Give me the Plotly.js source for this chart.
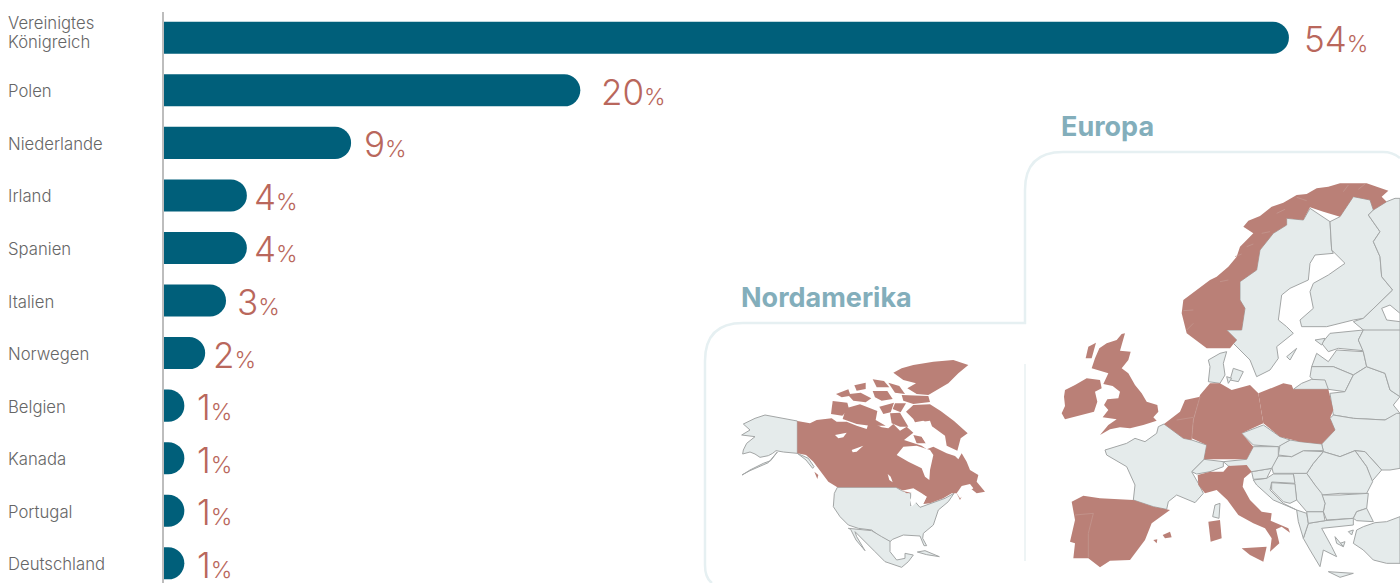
<!DOCTYPE html><html><head><meta charset="utf-8"><script src="https://cdn.plot.ly/plotly-3.0.1.min.js"></script></head><body style="margin:0;background:#fff"><div id="g" style="width:1400px;height:583px"></div><script>
const categories=['Vereinigtes<br>Königreich','Polen','Niederlande','Irland','Spanien','Italien','Norwegen','Belgien','Kanada','Portugal','Deutschland'];
const shares=[54,20,9,4,4,3,2,1,1,1,1];
const panelTitles=['Nordamerika','Europa'];
// North America outlines
const naGrey={
alaska:[292,423,250,415,225,412,195,405,165,415,130,432,150,450,125,465,165,470,140,490,130,510,128,522,150,516,165,522,180,532,205,527,218,520,228,512,250,516,292,520,318,540,338,565,342,560,325,535,292,520],
alaskaTail:[232,516,212,542,190,550,150,570,126,585,150,572,205,548],
lower48:[412,622,588,622,605,632,632,640,632,678,645,665,660,682,680,675,735,655,762,640,745,665,715,690,705,720,700,735,670,760,668,775,680,797,672,797,660,768,610,765,578,778,570,785,540,770,515,750,475,745,445,735,420,710,400,680,403,640],
mexico:[445,745,475,748,515,752,545,770,570,784,570,815,590,840,615,835,615,820,640,825,625,845,605,862,555,845,525,815,490,780,465,755,470,770,495,812,468,780,452,748],
cuba:[652,816,675,812,718,830,680,824]};
const naRed={
mainland:[292,423,330,430,350,420,395,415,410,425,440,425,470,437,500,447,505,432,520,430,545,442,565,445,580,432,600,452,620,440,640,458,612,480,640,490,665,497,680,508,700,500,740,520,765,528,775,538,785,520,800,545,810,570,835,585,830,605,855,635,830,640,815,628,790,640,780,660,770,640,755,640,730,655,690,670,670,672,680,650,650,635,620,640,605,630,588,622,412,622,385,605,360,570,340,545,318,525,292,520],
ellesmere:[605,265,640,255,700,245,760,240,805,255,775,280,745,310,705,335,685,345,650,342,622,325,648,310,610,300,580,278],
devon:[605,345,685,348,690,366,640,372,610,362],
corn:[565,308,598,318,615,342,585,338],
axel:[518,298,552,303,568,322,530,322],
bathurst:[518,333,562,333,578,357,545,362,525,352],
melville:[442,343,482,338,514,355,497,367,460,362],
prince:[408,342,445,328,452,347,425,352],
borden:[463,316,497,308,497,327,470,332],
banks:[398,363,442,368,447,387,427,407,393,402],
victoria:[438,385,480,373,532,393,527,420,557,437,510,437,470,432,428,417],
wales:[538,380,582,368,572,397,550,402],
somerset:[585,370,618,370,602,397,578,387],
boothia:[570,400,600,398,625,440,600,440,575,430],
baffin:[618,395,640,375,690,373,722,393,762,423,803,460,782,475,772,512,740,497,735,467,700,442,670,422,645,427,640,417],
southampton:[640,465,665,470,680,490,650,490],
vancouver:[343,575,355,585,352,597]};
const naWater={
hudson:[590,525,610,500,650,497,690,510,700,525,690,570,688,600,675,590,665,565,625,545],
foxe:[668,425,690,422,698,445,712,462,700,470,700,490,680,495,665,470],
bear:[405,465,440,458,430,472,415,475],
slave:[455,510,490,497,470,515,458,517],
winnipeg:[563,582,572,590,578,607,568,600],
lawrence:[770,640,785,618,810,612,820,625,800,640,780,655],
lakes:[605,632,640,625,665,640,680,650,670,670,650,665,635,680,630,660,640,640]};
// Northern Europe outlines
const euNorthGrey={
sweden:[870,325,930,365,935,450,940,460,885,465,870,490,865,540,810,565,785,585,775,660,800,680,820,700,770,740,775,775,750,810,710,830,690,780,640,730,650,720,620,690,665,690,675,625,660,600,660,545,710,510,720,450,760,400,800,375,800,355,850,360],
finland:[930,365,960,350,1000,290,1050,300,1060,330,1045,345,1080,395,1060,425,1080,470,1085,530,1118,570,1030,655,1000,660,920,680,845,680,840,660,880,625,870,575,880,550,925,525,975,490,945,460,935,450],
russiaN:[1060,330,1100,305,1125,295,1140,295,1140,720,1030,690,1000,665,1030,655,1118,570,1085,530,1080,470,1060,425,1080,395,1045,345]};
const euNorthWater={ladoga:[1085,625,1110,615,1140,640,1140,665,1100,660]};
const euNorthRed={
norway:[670,380,685,362,720,348,755,320,790,308,830,285,860,282,890,265,925,260,960,250,1040,250,1105,272,1085,290,1100,305,1060,330,1050,300,1000,290,960,350,910,335,870,322,850,360,800,355,800,375,760,400,720,450,710,510,660,545,660,600,675,625,665,690,620,690,650,720,630,745,560,745,500,700,485,640,490,600,530,570,570,540,590,530,625,500,650,470,660,440,700,400]};
const norwayFjords={
a:[490,632,520,630],b:[500,690,520,670],c:[600,545,625,540],d:[725,400,750,395],e:[680,440,700,432],
f:[830,292,860,302],g:[970,275,985,255],h:[1015,268,1035,252],i:[645,470,665,462],j:[770,340,795,328]};
// Southern Europe outlines
const euSouthGrey={
estonia:[930,10,1030,0,1015,30,1030,62,955,55,925,65,905,40],
saaremaa:[885,30,915,25,905,45],
latvia:[875,110,890,70,925,95,950,60,1030,65,1040,110,1000,135,940,110],
lithuania:[870,140,875,110,940,110,1000,135,975,185,925,178,880,150],
kaliningrad:[845,160,875,148,915,150,925,178,820,178],
belarus:[930,190,975,185,1000,135,1040,110,1095,130,1110,180,1140,200,1120,225,1140,250,1095,270,1000,265,940,255],
russiaS:[1030,0,1140,0,1140,200,1110,180,1095,130,1040,110,1030,65,1015,30],
ukraine:[940,255,1000,265,1095,270,1130,250,1140,250,1140,415,1110,420,1085,420,1035,365,1005,362,960,380,910,365,905,342,945,300,930,265],
moldova:[1005,362,1035,365,1085,420,1055,455,1040,410],
romania:[880,400,910,365,960,380,1005,362,1040,410,1058,455,1040,490,960,490,905,495,880,460,860,430],
bulgaria:[905,495,960,495,1045,490,1040,535,1010,545,1000,565,920,570,910,545,915,520],
turkeyEu:[1000,565,1010,545,1040,535,1060,575,1010,572],
turkey:[1065,578,1100,575,1140,560,1140,700,1100,700,1060,690,1030,660,1000,640,1010,600,1030,590],
greece:[850,625,865,580,915,572,1000,565,1000,585,950,590,905,595,935,650,950,680,910,660,900,710,870,660],
lesbos:[985,605,1000,600,995,615],
naxos:[960,640,975,635,970,650],
euboea:[945,620,970,650,950,640],
crete:[925,725,1000,730,960,742],
albania:[830,540,860,550,865,580,850,625,835,575],
macedonia:[860,545,910,545,915,572,865,580],
serbia:[820,430,860,430,885,465,905,490,915,520,910,545,860,545,830,510],
bosnia:[755,458,825,462,830,510,810,520,790,515,755,480],
croatia:[700,450,740,445,760,432,820,432,825,460,755,456,750,480,790,520,830,540,760,510,710,465],
slovenia:[695,425,755,415,740,445,700,448],
hungary:[775,378,815,380,850,362,910,365,880,400,860,430,820,430,760,430,755,410],
slovakia:[780,345,810,330,840,335,905,342,910,362,850,362,815,380,775,375],
czech:[665,310,730,285,780,320,810,330,775,350,700,345],
austria:[610,395,680,388,700,350,775,350,775,378,755,415,695,425,625,408],
switzerland:[552,388,610,395,610,410,570,425,530,432,515,425],
france:[432,282,490,325,515,330,560,345,552,388,515,425,535,460,550,490,525,518,470,495,445,515,440,538,400,530,340,510,345,465,320,410,260,375,255,360,320,340,345,325,375,335,410,310,415,290],
corsica:[585,525,600,520,597,565,578,560],
jutland:[565,155,570,110,565,90,600,70,620,65,610,100,615,135,600,160],
zealand:[640,115,670,125,655,155,630,150],
funen:[620,140,635,145,625,160],
gotland:[800,80,830,55,810,90]};
const euSouthRed={
ireland:[165,165,200,145,240,150,245,175,225,185,232,215,222,245,170,260,135,268,125,250,135,228,132,200,135,180],
britain:[215,115,225,85,238,55,260,40,290,30,305,12,315,10,305,45,300,62,332,65,325,90,305,115,325,130,345,165,365,190,380,215,412,225,415,245,400,262,410,272,370,285,330,295,300,292,270,298,240,315,265,285,290,268,248,262,265,240,252,225,262,208,295,205,300,185,278,168,250,162,265,130],
hebrides:[197,85,205,50,228,38,215,85],
iberia:[155,515,190,497,240,505,340,510,400,530,450,540,395,580,375,630,330,690,270,692,240,712,205,685,160,685,165,640,150,635,165,570],
mallorca:[428,615,450,605,455,622,435,625],
ibiza:[400,630,412,628,410,640],
benelux:[432,282,480,245,495,210,540,200,520,270,515,330,490,325],
germany:[570,160,600,160,635,180,690,165,715,190,730,280,665,310,700,350,680,388,552,388,560,345,515,325,520,270,540,195],
poland:[715,190,790,160,815,165,820,178,925,178,940,240,930,265,945,300,905,342,840,335,780,320,730,280],
italy:[533,435,570,425,610,425,625,408,680,405,695,425,672,445,668,470,690,510,725,545,755,550,752,572,805,595,810,608,785,590,768,598,778,640,750,665,755,625,735,595,700,580,655,555,622,510,590,480,555,490,535,465],
sicily:[665,655,740,650,730,695,690,675],
sardinia:[565,575,600,570,605,625,572,635]};
const euBorders={portugal:[165,555,220,550,205,610,205,682],lowCountries:[540,200,520,270,515,330],netherlands:[470,270,520,262]};

const labelGap=[13,18.5,11,5.5,5.5,8.5,5.5,10.5,10.5,10.5,10.5];
const BLUE='#005F7A',RED='#B9675C',LAND='#E5EBEB',HI='#BA8077',EDGE='#A3A6A6',SOFT='#C49A92';
const W=1400,H=583,S=690;
function poly(arr,xa,ya,fill,line,dy,open){const x=[],y=[];for(let i=0;i<arr.length;i+=2){x.push(arr[i]);y.push(arr[i+1]+(dy||0));}
 if(!open){x.push(arr[0]);y.push(arr[1]+(dy||0));}
 const t={type:'scatter',mode:'lines',x,y,xaxis:xa,yaxis:ya,line:{color:line||fill,width:line?(open?0.7:1):0},hoverinfo:'skip',showlegend:false,cliponaxis:true};
 if(!open){t.fill='toself';t.fillcolor=fill;}
 return t;}
const traces=[{type:'bar',orientation:'h',x:shares,y:categories,marker:{color:BLUE,cornerradius:16},hoverinfo:'skip',showlegend:false}];
function add(o,xa,ya,fill,line,dy,open){for(const k in o)traces.push(poly(o[k],xa,ya,fill,line,dy,open));}
add(naGrey,'x2','y2',LAND,EDGE);add(naRed,'x2','y2',HI);add(naWater,'x2','y2','#ffffff');
add(euNorthGrey,'x3','y3',LAND,EDGE);add(euSouthGrey,'x3','y3',LAND,EDGE,S);add(euNorthWater,'x3','y3','#ffffff',EDGE);
add(euNorthRed,'x3','y3',HI);add(euSouthRed,'x3','y3',HI,null,S);
add(norwayFjords,'x3','y3',null,SOFT,0,true);add(euBorders,'x3','y3',null,SOFT,S,true);

function dom(x0,x1,y0,y1){return {x:[x0/W,x1/W],y:[1-y1/H,1-y0/H]};}
function ax(d,r,anchor){return {domain:d,range:r,anchor,visible:false,fixedrange:true};}
const dNA=dom(700,1040,280,583),dE=dom(1020,1400,100,583);
const px=(x,y)=>(x/W).toFixed(5)+' '+(1-y/H).toFixed(5);
const font='"Inter","Noto Sans",sans-serif';
const ann=[];
categories.forEach((c,i)=>{
 const lines=c.split('<br>');
 lines.forEach((t,j)=>ann.push({xref:'paper',yref:'y',x:6/W,y:c,xanchor:'left',yanchor:'middle',yshift:i==0?(j==0?14.5:-4.5):-1,align:'left',showarrow:false,text:t,font:{family:font,size:16.7,color:'#666666',weight:300}}));
 ann.push({xref:'x',yref:'y',x:shares[i],y:c,xanchor:'left',yanchor:'middle',xshift:labelGap[i],yshift:-1.5,showarrow:false,text:shares[i]+'<span style="font-size:23px">%</span>',font:{family:font,size:35,color:RED,weight:300}});
});
ann.push({xref:'paper',yref:'paper',x:739/W,y:1-297/H,xanchor:'left',yanchor:'middle',showarrow:false,text:panelTitles[0],font:{family:'Inter',size:27,weight:700,color:'#83AEBB'}});
ann.push({xref:'paper',yref:'paper',x:1059/W,y:1-126/H,xanchor:'left',yanchor:'middle',showarrow:false,text:panelTitles[1],font:{family:'Inter',size:27,weight:700,color:'#83AEBB'}});
const layout={width:W,height:H,margin:{l:0,r:0,t:0,b:0},paper_bgcolor:'#fff',plot_bgcolor:'rgba(0,0,0,0)',showlegend:false,bargap:0.39,
 xaxis:{domain:[163.5/W,1],range:[0,59.33],visible:false,fixedrange:true},
 yaxis:{domain:[0,1-11.5/H],range:[10.375,-0.5],type:'category',categoryorder:'array',categoryarray:categories,showticklabels:false,ticks:'',showgrid:false,showline:true,linecolor:'#BDBDBD',linewidth:1.5,zeroline:false,fixedrange:true},
 xaxis2:ax(dNA.x,[0,1020],'y2'),yaxis2:ax(dNA.y,[909,0],'x2'),
 xaxis3:ax(dE.x,[0,1140],'y3'),yaxis3:ax(dE.y,[1449,0],'x3'),
 annotations:ann,
 shapes:[
 {type:'path',xref:'paper',yref:'paper',layer:'below',line:{color:'#E6F0F2',width:2.5},path:`M ${px(712,583)} Q ${px(705,578)} ${px(705,565)} L ${px(705,361)} Q ${px(705,323)} ${px(743,323)} L ${px(1025,323)} L ${px(1025,190)} Q ${px(1025,152)} ${px(1063,152)} L ${px(1383,152)} Q ${px(1393,152)} ${px(1400,158)}`},
 {type:'line',xref:'paper',yref:'paper',layer:'below',x0:1025/W,x1:1025/W,y0:1-364/H,y1:1-561/H,line:{color:'#EEF4F5',width:2}}
 ]};
Plotly.newPlot('g',traces,layout,{staticPlot:true,displayModeBar:false});
</script></body></html>
